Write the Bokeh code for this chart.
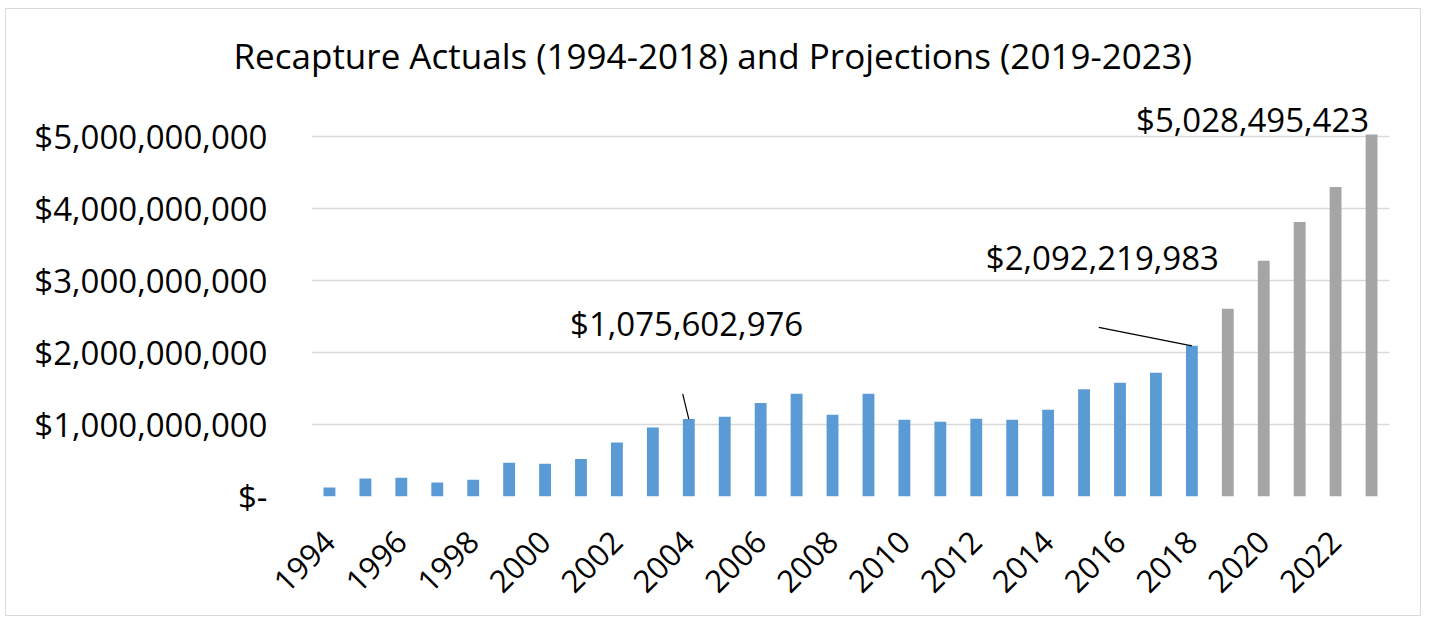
from bokeh.plotting import figure
from bokeh.models import Range1d, FixedTicker, CustomJSTickFormatter, Label
from bokeh.embed import file_html
from bokeh.resources import INLINE
import math

# ---- data ----
actual_years = list(range(1994, 2019))
actual_values = [0.126e9, 0.250e9, 0.260e9, 0.195e9, 0.233e9, 0.470e9, 0.456e9, 0.520e9,
                 0.750e9, 0.960e9, 1075602976, 1.107e9, 1.297e9, 1.428e9, 1.135e9, 1.428e9,
                 1.065e9, 1.037e9, 1.079e9, 1.065e9, 1.205e9, 1.488e9, 1.580e9, 1.720e9,
                 2092219983]
proj_years = list(range(2019, 2024))
proj_values = [2.607e9, 3.273e9, 3.814e9, 4.300e9, 5028495423]
y_ticks = [0, 1e9, 2e9, 3e9, 4e9, 5e9]
x_ticks = list(range(1994, 2023, 2))
title_text = "Recapture Actuals (1994-2018) and Projections (2019-2023)"

FONT = "Open Sans"
BLUE = "#5B9BD5"
GRAY = "#A5A5A5"
GRID = "#D9D9D9"

p = figure(width=1416, height=608, output_backend="svg", toolbar_location=None,
           x_range=Range1d(1993.5, 2023.5), y_range=Range1d(0, 5.75e9),
           min_border_left=305, min_border_right=33, min_border_top=73,
           min_border_bottom=121)
p.styles = {"border": "1px solid #D9D9D9", "margin-left": "5px", "margin-top": "8px"}
p.outline_line_color = None
p.background_fill_color = "white"
p.border_fill_color = "white"

p.title.text = title_text
p.title.align = "left"
p.title.offset = -78
p.title.standoff = 8
p.title.text_font = FONT
p.title.text_font_size = "35px"
p.title.text_font_style = "normal"
p.title.text_color = "black"

p.vbar(x=actual_years, top=actual_values, width=0.33, fill_color=BLUE, line_color=None)
p.vbar(x=proj_years, top=proj_values, width=0.33, fill_color=GRAY, line_color=None)

# axes
p.yaxis.ticker = FixedTicker(ticks=y_ticks)
p.yaxis.formatter = CustomJSTickFormatter(
    code="return tick == 0 ? '$-' : '$' + Math.round(tick).toLocaleString('en-US');")
p.yaxis.axis_line_color = None
p.yaxis.major_tick_line_color = None
p.yaxis.minor_tick_line_color = None
p.yaxis.major_label_standoff = 38
p.yaxis.major_label_text_font = FONT
p.yaxis.major_label_text_font_size = "33px"
p.yaxis.major_label_text_color = "black"

p.xaxis.ticker = FixedTicker(ticks=x_ticks)
p.xaxis.axis_line_color = None
p.xaxis.major_tick_line_color = None
p.xaxis.minor_tick_line_color = None
p.xaxis.major_label_orientation = math.pi / 4
p.xaxis.major_label_standoff = 34
p.xaxis.major_label_text_font = FONT
p.xaxis.major_label_text_font_size = "31px"
p.xaxis.major_label_text_color = "black"

p.xgrid.grid_line_color = None
p.ygrid.ticker = FixedTicker(ticks=y_ticks)
p.ygrid.grid_line_color = GRID
p.ygrid.grid_line_width = 1.5

def money(v):
    return "${:,.0f}".format(v)

# data labels with leader lines
lab_2004 = actual_values[actual_years.index(2004)]
lab_2018 = actual_values[actual_years.index(2018)]
lab_2023 = proj_values[proj_years.index(2023)]

for xx, yy, v in [(2003.94, 2.40e9, lab_2004), (2015.51, 3.315e9, lab_2018),
                  (2019.69, 5.24e9, lab_2023)]:
    p.add_layout(Label(x=xx, y=yy, text=money(v), text_font=FONT,
                       text_font_size="33px", text_align="center", text_baseline="middle",
                       text_color="black"))

p.segment(x0=[2003.83, 2015.41], y0=[1.424e9, 2.348e9],
          x1=[2004.0, 2018.0], y1=[lab_2004, lab_2018],
          line_color="black", line_width=1.2)

open("out.html", "w").write(file_html(p, INLINE))
